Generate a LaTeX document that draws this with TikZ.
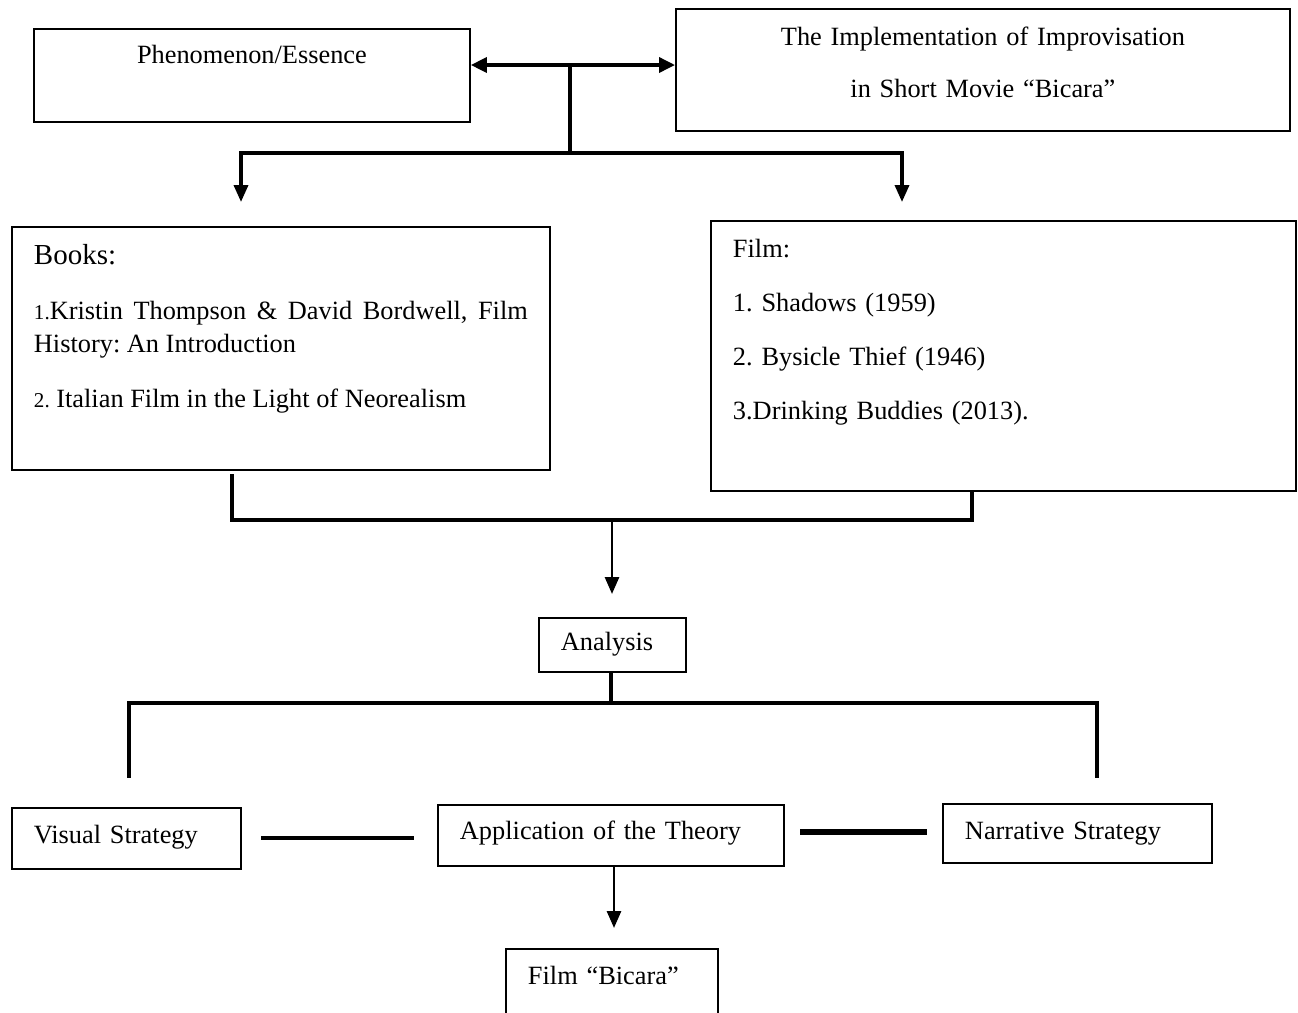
\documentclass[tikz,border=0pt]{standalone}
\usepackage{fontspec}
\setmainfont{Liberation Serif}
\usetikzlibrary{arrows.meta}
\frenchspacing

\begin{document}
\begin{tikzpicture}[x=0.02cm, y=-0.02cm,
    box/.style={draw, line width=1.1pt, anchor=north west, inner ysep=0pt,
      inner xsep=0.44cm, font=\fontsize{15}{18.7}\selectfont},
    link/.style={line width=2pt},
    arrow/.style={link, -{Triangle[length=0.34cm, width=0.28cm]}}]
  \clip (0,0) rectangle (1298,1012);
  % top row
  \node[box, inner xsep=0pt, text width=8.72cm, align=center,
    text height=0.70cm, text depth=1.16cm] (phen) at (33,28) {Phenomenon/Essence};
  \node[box, inner xsep=0pt, text width=12.28cm, align=center,
    font=\fontsize{15}{29.5}\selectfont,
    text height=0.74cm, text depth=1.70cm] (impl) at (675,8)
    {The Implementation of Improvisation\\in Short Movie ``Bicara''};
  % sources
  \node[box, text width=9.88cm, align=justify,
    text height=0.76cm, text depth=4.10cm] (books) at (11,226)
    {{\fontsize{16.5}{18.7}\selectfont Books:}\par\vspace{0.44cm}
     {\fontsize{12}{14}\selectfont 1.}Kristin Thompson \& David Bordwell, Film\linebreak
     History: An Introduction\par\vspace{0.44cm}
     {\fontsize{12}{14}\selectfont 2.}\ Italian Film in the Light of Neorealism};
  \node[box, text width=10.82cm, align=left,
    font=\fontsize{15}{30.7}\selectfont,
    text height=0.74cm, text depth=4.66cm] (films) at (710,220)
    {Film:\\1. Shadows (1959)\\2. Bysicle Thief (1946)\\3.Drinking Buddies (2013).};
  % analysis
  \node[box, text width=2.06cm, align=left,
    text height=0.66cm, text depth=0.42cm] (analysis) at (538,617) {Analysis};
  % bottom row
  \node[box, text width=3.70cm, align=left,
    text height=0.72cm, text depth=0.50cm] (visual) at (11,807) {Visual Strategy};
  \node[box, text width=6.04cm, align=left,
    text height=0.70cm, text depth=0.52cm] (app) at (437,804) {Application of the Theory};
  \node[box, text width=4.50cm, align=left,
    text height=0.72cm, text depth=0.46cm] (narr) at (942,803) {Narrative Strategy};
  \node[box, text width=3.36cm, align=left,
    text height=0.72cm, text depth=1.12cm] (bicara) at (505,948) {Film ``Bicara''};

  \coordinate (hub) at (570,65);
  \coordinate (split) at (570,153);
  \coordinate (booksin) at (241,202);
  \coordinate (filmsin) at (902,202);
  \coordinate (booksout) at (232,474);
  \coordinate (filmsout) at (972,490);
  \coordinate (merge) at (612,520);
  \coordinate (analysisin) at (612,594);
  \coordinate (fork) at (611,703);
  \coordinate (visualup) at (129,778);
  \coordinate (narrup) at (1097,778);
  \coordinate (va1) at (261,838);
  \coordinate (va2) at (414,838);
  \coordinate (an1) at (800,832);
  \coordinate (an2) at (927,832);
  \coordinate (bicarain) at (614,928);

  \draw[link, {Triangle[length=0.32cm, width=0.3cm]}-{Triangle[length=0.32cm, width=0.3cm]}]
    (phen.east |- hub) -- (impl.west |- hub);
  \draw[link] (hub) -- (split);
  \draw[arrow] (split) -| (booksin);
  \draw[arrow] (split) -| (filmsin);
  \draw[link] (booksout) |- (merge);
  \draw[link] (merge) -| (filmsout);
  \draw[arrow, line width=1.6pt] (merge) -- (analysisin);
  \draw[link] (analysis.south -| fork) -- (fork);
  \draw[link] (fork) -| (visualup);
  \draw[link] (fork) -| (narrup);
  \draw[line width=2.4pt] (va1) -- (va2);
  \draw[line width=3.2pt] (an1) -- (an2);
  \draw[arrow, line width=1.6pt] (app.south -| bicarain) -- (bicarain);
\end{tikzpicture}
\end{document}
